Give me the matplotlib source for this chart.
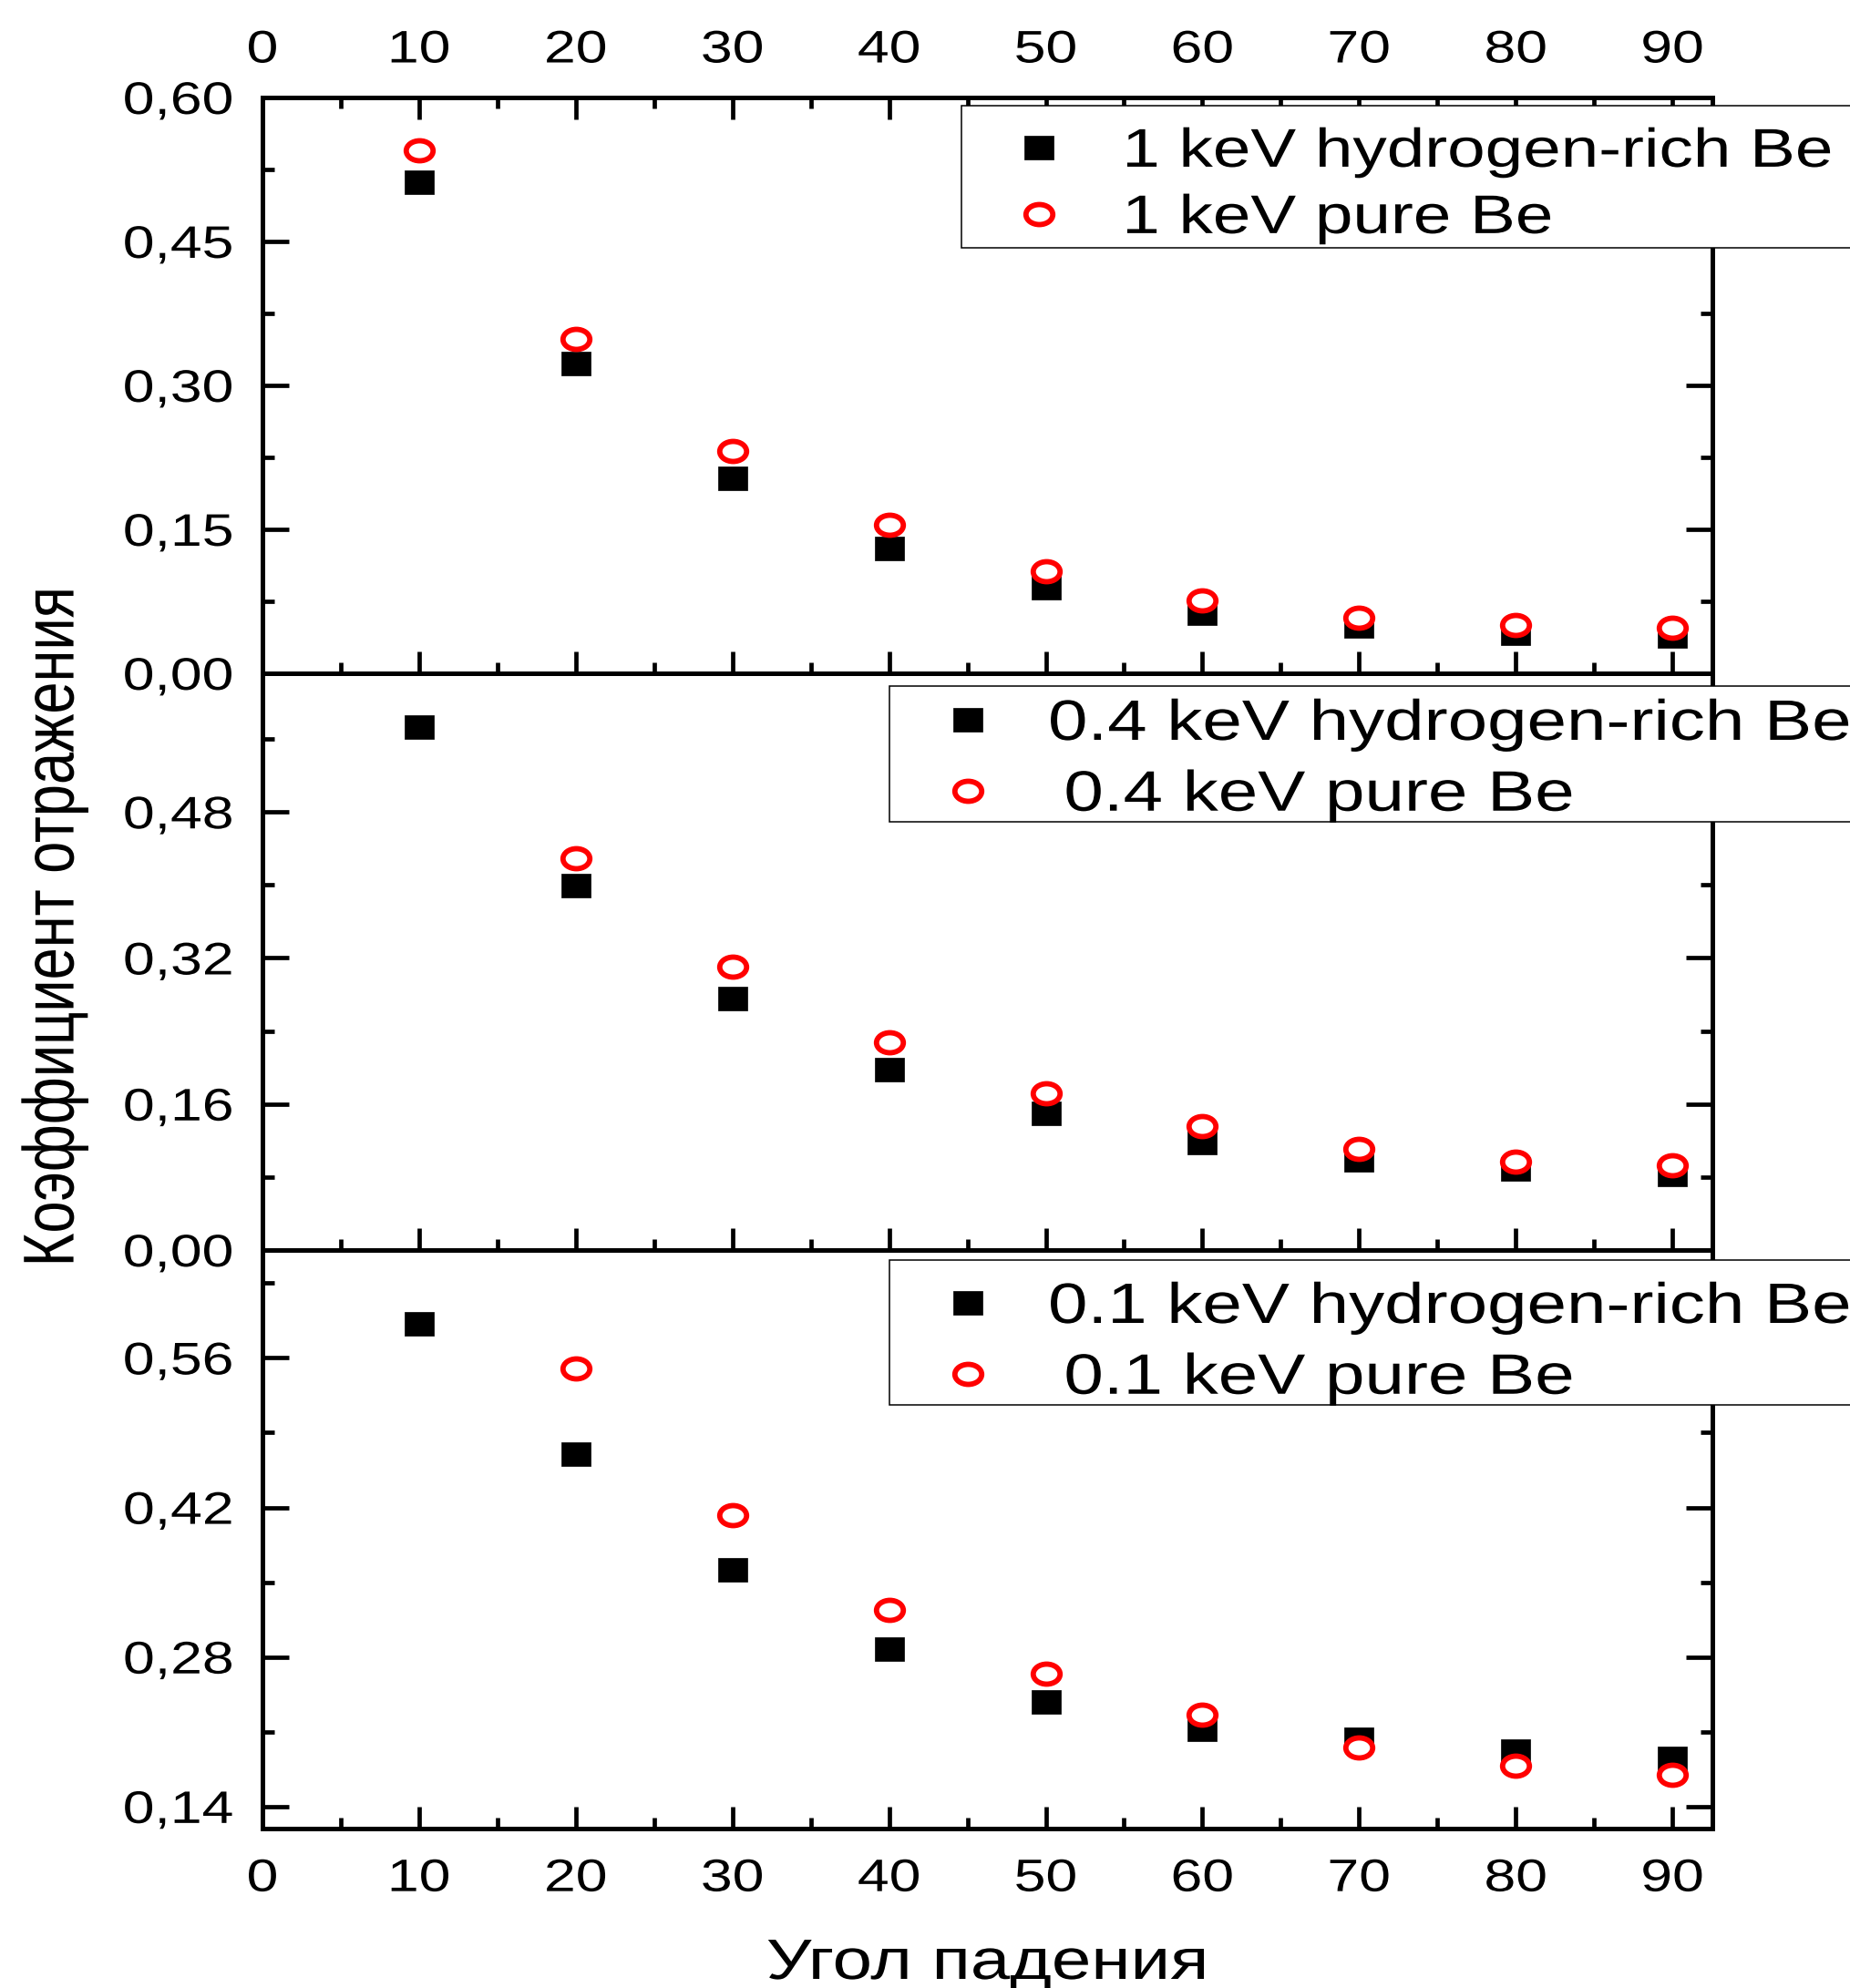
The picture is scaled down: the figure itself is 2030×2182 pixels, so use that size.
import numpy as np
import matplotlib
matplotlib.use("Agg")
import matplotlib.pyplot as plt
from matplotlib.path import Path
from matplotlib.transforms import Affine2D
from matplotlib.patheffects import AbstractPathEffect

# ---------------- data ----------------
angles = [10, 20, 30, 40, 50, 60, 70, 80, 90]

r1kev_hyd = [0.512, 0.323, 0.203, 0.130, 0.089, 0.063, 0.049, 0.042, 0.039]
r1kev_pure = [0.545, 0.348, 0.232, 0.155, 0.106, 0.076, 0.058, 0.0505, 0.047]

r04kev_hyd = [0.573, 0.399, 0.276, 0.198, 0.150, 0.118, 0.0985, 0.089, 0.083]
r04kev_pure = [np.nan, 0.429, 0.311, 0.228, 0.172, 0.1355, 0.1105, 0.097, 0.0927]

r01kev_hyd = [0.592, 0.470, 0.362, 0.2875, 0.238, 0.2125, 0.2026, 0.192, 0.185]
r01kev_pure = [np.nan, 0.550, 0.413, 0.324, 0.2646, 0.226, 0.1957, 0.1785, 0.170]

labels_1 = ["1 keV hydrogen-rich Be", "1 keV pure Be"]
labels_04 = ["0.4 keV hydrogen-rich Be", " 0.4 keV pure Be"]
labels_01 = ["0.1 keV hydrogen-rich Be", " 0.1 keV pure Be"]

x_ticks = [0, 10, 20, 30, 40, 50, 60, 70, 80, 90]
x_tick_labels = ["0", "10", "20", "30", "40", "50", "60", "70", "80", "90"]

y1_ticks = [0.00, 0.15, 0.30, 0.45, 0.60]
y1_tick_labels = ["0,00", "0,15", "0,30", "0,45", "0,60"]
y2_ticks = [0.00, 0.16, 0.32, 0.48]
y2_tick_labels = ["0,00", "0,16", "0,32", "0,48"]
y3_ticks = [0.14, 0.28, 0.42, 0.56]
y3_tick_labels = ["0,14", "0,28", "0,42", "0,56"]

x_label = "Угол падения"
y_label = "Коэффициент отражения"

# ---------------- style helpers ----------------
SX = 1.25  # horizontal stretch of the original image
H_PX = 2182


class HStretch(AbstractPathEffect):
    """Stretch the drawn path horizontally about an anchor of its extent."""

    def __init__(self, sx, anchor):
        super().__init__()
        self._sx = sx
        self._anchor = anchor

    def draw_path(self, renderer, gc, tpath, affine, rgbFace=None):
        bb = tpath.get_extents(affine)
        x0 = bb.x0 + self._anchor * bb.width
        t = affine + Affine2D().translate(-x0, 0).scale(self._sx, 1.0).translate(x0, 0)
        renderer.draw_path(gc, tpath, t, rgbFace)


class FrameFit(AbstractPathEffect):
    """Fit the legend frame vertically between given pixel rows (from top)."""

    def __init__(self, top_px, bottom_px):
        super().__init__()
        self._top = top_px
        self._bot = bottom_px

    def draw_path(self, renderer, gc, tpath, affine, rgbFace=None):
        bb = tpath.get_extents(affine)
        y_top = H_PX - self._top
        y_bot = H_PX - self._bot
        sy = (y_top - y_bot) / bb.height
        t = affine + Affine2D().translate(0, -bb.y0).scale(1.0, sy).translate(0, y_bot)
        renderer.draw_path(gc, tpath, t, rgbFace)


plt.rcParams["font.family"] = ["Liberation Sans", "DejaVu Sans"]

sq_marker = Path([(-0.615, -0.5), (0.615, -0.5), (0.615, 0.5), (-0.615, 0.5), (-0.615, -0.5)],
                 [Path.MOVETO, Path.LINETO, Path.LINETO, Path.LINETO, Path.CLOSEPOLY])
circ_marker = Path.unit_circle().transformed(Affine2D().scale(1.34, 1.0))

fig = plt.figure(figsize=(20.30, 21.82), dpi=100)

L = 288 / 2030
W = (1879 - 288) / 2030
ax1 = fig.add_axes([L, 1 - 739 / H_PX, W, 632 / H_PX])
ax2 = fig.add_axes([L, 1 - 1372 / H_PX, W, 633 / H_PX])
ax3 = fig.add_axes([L, 1 - 2007 / H_PX, W, 635 / H_PX])

panels = [
    (ax1, r1kev_hyd, r1kev_pure, labels_1, (0.0, 0.60), y1_ticks, y1_tick_labels,
     [0.075, 0.225, 0.375, 0.525], 43, (0.4821, 0.0, 0.64, (739 - 128.0) / 632),
     (115.7, 271.7)),
    (ax2, r04kev_hyd, r04kev_pure, labels_04, (0.0, 0.632), y2_ticks, y2_tick_labels,
     [0.08, 0.24, 0.40, 0.56], 45, (0.4322, 0.0, 0.69, (1372 - 753.5) / 633),
     (752.7, 901.5)),
    (ax3, r01kev_hyd, r01kev_pure, labels_01, (0.1194, 0.661), y3_ticks, y3_tick_labels,
     [0.21, 0.35, 0.49, 0.63], 45, (0.4322, 0.0, 0.69, (2007 - 1393.5) / 635),
     (1383.4, 1542.0)),
]

for i, (ax, yh, yp, labs, ylim, yt, ytl, yminor, lfs, bbox, frame_y) in enumerate(panels):
    ax.set_facecolor("none")
    ax.plot(angles, yh, linestyle="none", marker=sq_marker, markersize=23,
            markerfacecolor="black", markeredgecolor="black", markeredgewidth=0.5,
            label=labs[0], zorder=3)
    ax.plot(angles, yp, linestyle="none", marker=circ_marker, markersize=21.2,
            markerfacecolor="white", markeredgecolor="#ff0000", markeredgewidth=4.2,
            label=labs[1], zorder=4)
    ax.set_xlim(0, 92.55)
    ax.set_ylim(*ylim)
    ax.set_xticks(x_ticks, x_tick_labels)
    ax.set_xticks(np.arange(5, 91, 10), minor=True)
    ax.set_yticks(yt, ytl)
    ax.set_yticks(yminor, minor=True)
    for s in ax.spines.values():
        s.set_linewidth(3.6)
    ax.tick_params(axis="x", which="major", direction="in", length=17, width=3.4, labelsize=36)
    ax.tick_params(axis="x", which="minor", direction="in", length=8.6, width=3.4)
    ax.tick_params(axis="y", which="major", direction="in", length=21, width=3.4,
                   labelsize=36, pad=23)
    ax.tick_params(axis="y", which="minor", direction="in", length=9.7, width=3.4)
    ax.tick_params(axis="y", which="both", left=True, right=True, labelleft=True, labelright=False)
    if i == 0:
        ax.tick_params(axis="x", which="both", top=True, bottom=True,
                       labeltop=True, labelbottom=False)
        ax.tick_params(axis="x", which="major", pad=20.5)
    elif i == 1:
        ax.tick_params(axis="x", which="both", top=False, bottom=True,
                       labeltop=False, labelbottom=False)
    else:
        ax.tick_params(axis="x", which="both", top=False, bottom=True,
                       labeltop=False, labelbottom=True)
        ax.tick_params(axis="x", which="major", pad=23.5)

    hl = 2.45 if lfs == 43 else 2.35
    htp = 0.32 if lfs == 43 else 0.25
    leg = ax.legend(loc="upper left", bbox_to_anchor=bbox, mode="expand",
                    borderaxespad=0, fontsize=lfs, frameon=True, fancybox=False,
                    framealpha=1, edgecolor="black", borderpad=0.2, labelspacing=0.3,
                    handlelength=hl, handletextpad=htp, numpoints=1)
    leg.get_frame().set_linewidth(1.1)
    leg.get_frame().set_path_effects([FrameFit(*frame_y)])
    for t in leg.get_texts():
        t.set_path_effects([HStretch(SX, 0.0)])

    for tk in ax.xaxis.get_major_ticks():
        tk.label1.set_path_effects([HStretch(SX, 0.5)])
        tk.label2.set_path_effects([HStretch(SX, 0.5)])
    for tk in ax.yaxis.get_major_ticks():
        tk.label1.set_path_effects([HStretch(SX, 1.0)])

fig.text(1083.5 / 2030, 1 - 2172 / H_PX, x_label, ha="center", va="baseline",
         fontsize=45, path_effects=[HStretch(SX, 0.5)])
fig.text(60 / 2030, 1 - 1017 / H_PX, y_label, rotation=90, ha="center", va="center",
         fontsize=45.5, path_effects=[HStretch(SX, 0.5)])

fig.savefig("out.png", dpi=100, facecolor="white")
